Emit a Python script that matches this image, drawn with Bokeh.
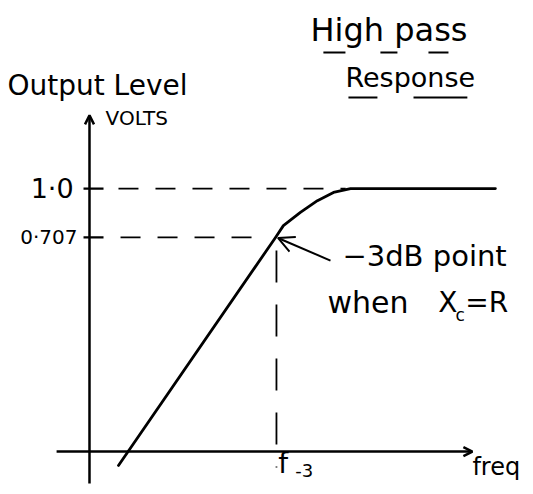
from bokeh.plotting import figure
from bokeh.models import Range1d, Arrow, OpenHead
from bokeh.core.properties import value
from bokeh.embed import file_html
from bokeh.resources import INLINE

# ---- data (sketch units: x = frequency relative to f-3, y = output level as drawn) ----
freq = [0.155, 0.995, 1.037, 1.128, 1.219, 1.305, 1.396, 1.433, 2.171]
level = [-0.053, 0.814, 0.859, 0.909, 0.954, 0.985, 1.0, 1.0, 1.0]
tick_levels = [1.0, 0.814]
tick_labels = ["1·0", "0·707"]
cutoff = 1.0
x_label = "freq"
y_label = "Output Level"
y_units = "VOLTS"
title_lines = ["High pass", "Response"]
note_lines = ["−3dB point", "when"]

FONT = value("DejaVu Sans")

p = figure(width=525, height=486, output_backend="svg", toolbar_location=None,
           x_range=Range1d(-0.476, 2.332), y_range=Range1d(-0.133, 1.715),
           min_border=0, outline_line_color=None)
p.axis.visible = False
p.grid.visible = False
p.background_fill_color = "white"
p.border_fill_color = "white"

ink = "black"

# axes with arrow heads
p.add_layout(Arrow(end=OpenHead(size=9, line_width=2.5, line_color=ink),
                   x_start=-0.176, y_start=0, x_end=2.048, y_end=0,
                   line_width=2.5, line_color=ink))
p.add_layout(Arrow(end=OpenHead(size=9, line_width=2.5, line_color=ink),
                   x_start=0, y_start=-0.122, x_end=0, y_end=1.278,
                   line_width=2.5, line_color=ink))

# tick marks on y axis
p.segment(x0=[-0.032] * len(tick_levels), y0=tick_levels,
          x1=[0.075] * len(tick_levels), y1=tick_levels,
          line_width=2.2, line_color=ink)
p.text(x=[-0.085], y=[tick_levels[0]], text=[tick_labels[0]],
       text_font=FONT, text_font_size="27px", text_align="right",
       text_baseline="middle", text_color=ink)
p.text(x=[-0.064], y=[tick_levels[1]], text=[tick_labels[1]],
       text_font=FONT, text_font_size="20px", text_align="right",
       text_baseline="middle", text_color=ink)

# dashed guide lines
p.segment(x0=[0.155], y0=[tick_levels[0]], x1=[1.37], y1=[tick_levels[0]],
          line_width=1.8, line_color=ink, line_dash="20 17")
p.segment(x0=[0.166], y0=[tick_levels[1]], x1=[0.90], y1=[tick_levels[1]],
          line_width=1.8, line_color=ink, line_dash="20 17")
p.segment(x0=[cutoff], y0=[0.764], x1=[cutoff], y1=[-0.061],
          line_width=1.8, line_color=ink, line_dash="32 22")

# response curve
p.line(freq, level, line_width=2.8, line_color=ink, line_join="round", line_cap="round")

# pointer to -3dB point
p.add_layout(Arrow(end=OpenHead(size=16, line_width=2, line_color=ink),
                   x_start=1.289, y_start=0.726, x_end=1.008, y_end=0.812,
                   line_width=2, line_color=ink))

# texts
p.text(x=[1.182], y=[1.601], text=[title_lines[0]], text_font=FONT, text_font_size="32px",
       text_baseline="middle", text_color=ink)
p.text(x=[1.369], y=[1.422], text=[title_lines[1]], text_font=FONT, text_font_size="27px",
       text_baseline="middle", text_color=ink)
p.segment(x0=[1.251, 1.556, 1.813, 1.385, 1.733], y0=[1.517, 1.517, 1.517, 1.346, 1.346],
          x1=[1.369, 1.647, 1.920, 1.540, 2.021], y1=[1.517, 1.517, 1.517, 1.346, 1.346],
          line_width=2, line_color=ink)

p.text(x=[-0.439], y=[1.39], text=[y_label], text_font=FONT, text_font_size="28px",
       text_baseline="middle", text_color=ink)
p.text(x=[0.086], y=[1.27], text=[y_units], text_font=FONT, text_font_size="20px",
       text_baseline="middle", text_color=ink)

p.text(x=[1.353], y=[0.745], text=[note_lines[0]], text_font=FONT, text_font_size="29px",
       text_baseline="middle", text_color=ink)
p.text(x=[1.273], y=[0.567], text=[note_lines[1]], text_font=FONT, text_font_size="30px",
       text_baseline="middle", text_color=ink)
p.text(x=[1.865], y=[0.567], text=["X"], text_font=FONT, text_font_size="28px",
       text_baseline="middle", text_color=ink)
p.text(x=[1.957], y=[0.52], text=["c"], text_font=FONT, text_font_size="17px",
       text_baseline="middle", text_color=ink)
p.text(x=[2.01], y=[0.567], text=["=R"], text_font=FONT, text_font_size="28px",
       text_baseline="middle", text_color=ink)

p.text(x=[cutoff + 0.01], y=[-0.046], text=["f"], text_font=FONT, text_font_size="28px",
       text_baseline="middle", text_color=ink)
p.text(x=[cutoff + 0.1], y=[-0.072], text=["-3"], text_font=FONT, text_font_size="18px",
       text_baseline="middle", text_color=ink)
p.text(x=[2.048], y=[-0.06], text=[x_label], text_font=FONT, text_font_size="24px",
       text_baseline="middle", text_color=ink)

open("out.html", "w").write(file_html(p, INLINE))
